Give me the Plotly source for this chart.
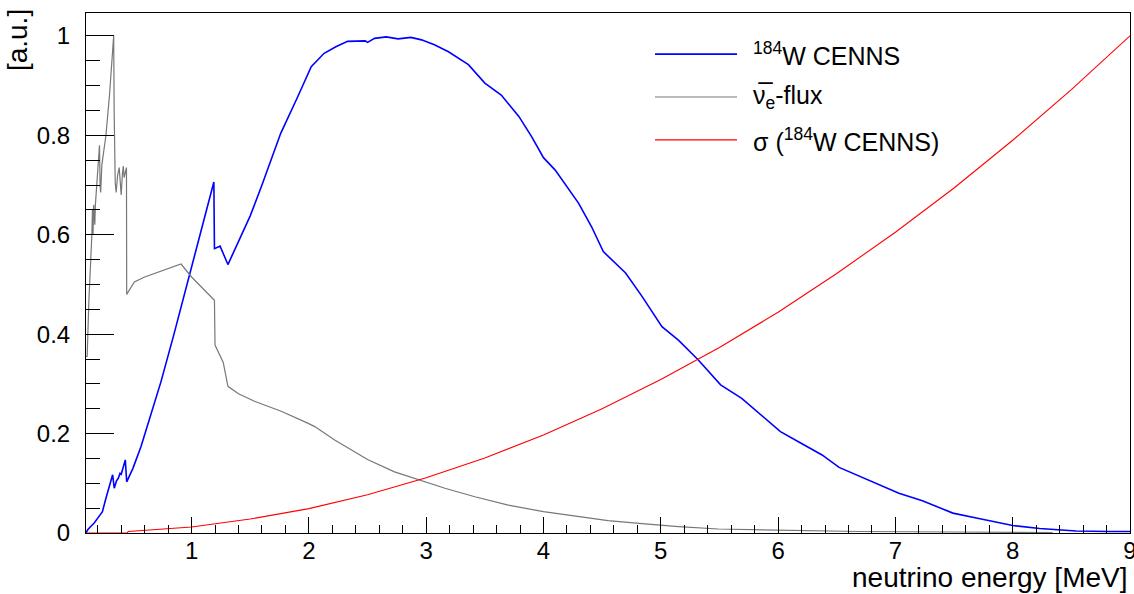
import plotly.graph_objects as go

# ---------------- data ----------------
cenns_E = [0.10, 0.113, 0.14, 0.17, 0.20, 0.24, 0.27, 0.30, 0.327, 0.341, 0.36, 0.375,
           0.39, 0.40, 0.435, 0.447, 0.50, 0.569, 0.65, 0.74, 0.85, 0.95, 1.05, 1.19,
           1.195, 1.243, 1.31, 1.40, 1.50, 1.60, 1.76, 1.90, 2.02, 2.13, 2.23, 2.33,
           2.48, 2.50, 2.56, 2.66, 2.76, 2.87, 2.96, 3.07, 3.19, 3.36, 3.50, 3.64,
           3.79, 3.90, 4.00, 4.10, 4.22, 4.30, 4.41, 4.51, 4.70, 4.84, 5.01, 5.15,
           5.32, 5.51, 5.69, 6.02, 6.20, 6.375, 6.52, 6.80, 7.03, 7.23, 7.49, 7.69,
           8.00, 8.23, 8.43, 8.54, 8.82, 9.00]
cenns_val = [0.0, 0.006, 0.013, 0.02, 0.03, 0.043, 0.07, 0.095, 0.117, 0.09, 0.105, 0.11,
             0.12, 0.118, 0.147, 0.103, 0.13, 0.174, 0.235, 0.305, 0.40, 0.49, 0.58, 0.706,
             0.572, 0.577, 0.54, 0.585, 0.638, 0.70, 0.804, 0.875, 0.938, 0.965, 0.978, 0.989,
             0.99, 0.987, 0.995, 0.998, 0.994, 0.997, 0.992, 0.982, 0.968, 0.942, 0.905, 0.881,
             0.838, 0.797, 0.755, 0.73, 0.69, 0.663, 0.616, 0.566, 0.523, 0.476, 0.415, 0.388,
             0.348, 0.298, 0.271, 0.204, 0.18, 0.157, 0.132, 0.103, 0.08, 0.065, 0.04, 0.03,
             0.015, 0.009, 0.006, 0.004, 0.003, 0.003]

flux_E = [0.10, 0.11, 0.125, 0.14, 0.15, 0.155, 0.16, 0.165, 0.175, 0.18, 0.19, 0.20,
          0.21, 0.215, 0.22, 0.225, 0.235, 0.25, 0.27, 0.30, 0.32, 0.33, 0.336, 0.34,
          0.349, 0.357, 0.37, 0.383, 0.39, 0.40, 0.41, 0.418, 0.425, 0.44, 0.445, 0.447,
          0.512, 0.60, 0.70, 0.80, 0.91, 1.00, 1.10, 1.195, 1.20, 1.27, 1.31, 1.40,
          1.536, 1.764, 1.99, 2.05, 2.22, 2.50, 2.73, 2.96, 3.16, 3.415, 3.70, 4.00,
          4.30, 4.55, 4.84, 5.15, 5.49, 5.78, 6.12, 6.69, 7.50, 8.34]
flux_val = [0.355, 0.355, 0.47, 0.54, 0.60, 0.65, 0.60, 0.66, 0.62, 0.66, 0.70, 0.74,
            0.77, 0.78, 0.70, 0.685, 0.74, 0.77, 0.80, 0.88, 0.95, 0.98, 1.0, 0.85,
            0.705, 0.685, 0.72, 0.735, 0.70, 0.68, 0.72, 0.738, 0.715, 0.735, 0.735, 0.48,
            0.505, 0.515, 0.523, 0.531, 0.541, 0.515, 0.49, 0.468, 0.378, 0.343, 0.295, 0.28,
            0.265, 0.245, 0.221, 0.214, 0.187, 0.148, 0.123, 0.105, 0.09, 0.073, 0.056, 0.043,
            0.033, 0.025, 0.019, 0.013, 0.008, 0.007, 0.005, 0.003, 0.002, 0.001]

xsec_E = [0.10, 0.45, 0.46, 1.0, 1.5, 2.0, 2.5, 3.0, 3.5, 4.0, 4.5, 5.0, 5.5, 6.0,
          6.5, 7.0, 7.5, 8.0, 8.5, 9.0]
xsec_val = [0.0, 0.0, 0.003, 0.012, 0.028, 0.049, 0.077, 0.111, 0.151, 0.197, 0.25,
            0.309, 0.373, 0.444, 0.522, 0.605, 0.694, 0.79, 0.892, 1.0]

series_names = ["<sup>184</sup>W CENNS", "\u03bd\u0305<sub>e</sub>-flux", "\u03c3 (<sup>184</sup>W CENNS)"]
series_colors = ["#0000ff", "#777777", "#ff0000"]
series_widths = [1.6, 1.2, 1.1]

x_title = "neutrino energy [MeV]"
y_title = "[a.u.]"

FONT = "Liberation Sans, Arial, Helvetica, sans-serif"

fig = go.Figure()
for xs, ys, name, col, w in zip([cenns_E, flux_E, xsec_E],
                                [cenns_val, flux_val, xsec_val],
                                series_names, series_colors, series_widths):
    fig.add_trace(go.Scatter(x=xs, y=ys, mode="lines", name=name,
                             line=dict(color=col, width=w), showlegend=False))

# ROOT-style legend drawn in paper coordinates
leg_y = [0.921, 0.8385, 0.756]
shapes = []
annotations = []
for name, col, w, yy in zip(series_names, series_colors, series_widths, leg_y):
    shapes.append(dict(type="line", xref="paper", yref="paper", x0=0.545, x1=0.6236,
                       y0=yy, y1=yy, line=dict(color=col, width=w)))
    annotations.append(dict(xref="paper", yref="paper", x=0.637, y=yy, text=name,
                            showarrow=False, xanchor="left", yanchor="middle",
                            font=dict(family=FONT, size=25, color="black")))

annotations.append(dict(xref="paper", yref="paper", x=1.0, y=-0.0865, text=x_title,
                        showarrow=False, xanchor="right", yanchor="middle",
                        font=dict(family=FONT, size=28, color="black")))
annotations.append(dict(xref="paper", yref="paper", x=-0.066, y=1.0, yshift=6, text=y_title,
                        showarrow=False, xanchor="center", yanchor="top", textangle=-90,
                        font=dict(family=FONT, size=28, color="black")))

fig.update_layout(
    width=1134, height=594,
    margin=dict(l=86, r=4, t=13, b=61, autoexpand=False),
    paper_bgcolor="white", plot_bgcolor="white",
    font=dict(family=FONT, size=24, color="black"),
    shapes=shapes, annotations=annotations,
)
fig.update_xaxes(range=[0.1, 9.0], tick0=0, dtick=1, ticks="inside", ticklen=16,
                 tickwidth=1, tickcolor="black", showline=True, linecolor="black",
                 linewidth=1, mirror=True, showgrid=False, zeroline=False,
                 tickfont=dict(family=FONT, size=24), ticklabelstandoff=-4,
                 ticklabeloverflow="allow", automargin=False,
                 minor=dict(ticks="inside", ticklen=8, dtick=0.2, tick0=0,
                            tickcolor="black", tickwidth=1, showgrid=False))
fig.update_yaxes(range=[0, 1.046], tick0=0, dtick=0.2, ticks="inside", ticklen=28,
                 tickwidth=1, tickcolor="black", showline=True, linecolor="black",
                 linewidth=1, mirror=True, showgrid=False, zeroline=False,
                 tickfont=dict(family=FONT, size=24), ticklabelstandoff=10,
                 automargin=False,
                 minor=dict(ticks="inside", ticklen=14, dtick=0.05, tick0=0,
                            tickcolor="black", tickwidth=1, showgrid=False))

fig.write_html("out.html")
